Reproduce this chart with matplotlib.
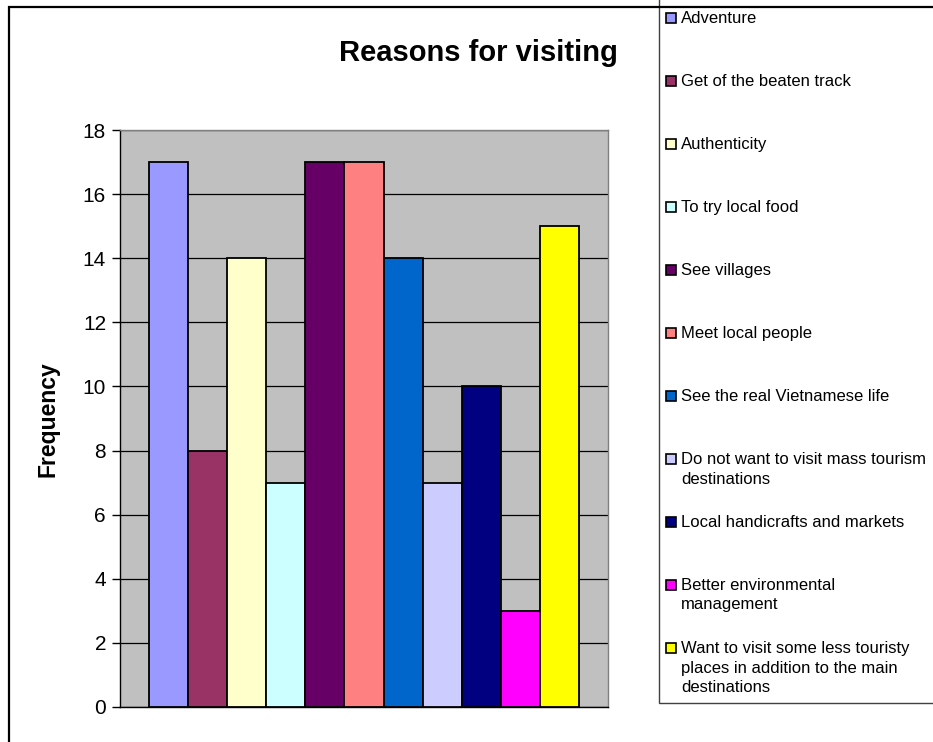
import matplotlib
matplotlib.use("Agg")
import matplotlib.pyplot as plt
from matplotlib.patches import Rectangle
import numpy as np

plt.rcParams['font.family'] = ['Liberation Sans', 'DejaVu Sans']

categories = [
    "Adventure",
    "Get of the beaten track",
    "Authenticity",
    "To try local food",
    "See villages",
    "Meet local people",
    "See the real Vietnamese life",
    "Do not want to visit mass tourism\ndestinations",
    "Local handicrafts and markets",
    "Better environmental\nmanagement",
    "Want to visit some less touristy\nplaces in addition to the main\ndestinations",
]
values = [17, 8, 14, 7, 17, 17, 14, 7, 10, 3, 15]
colors = ["#9999FF", "#993366", "#FFFFCC", "#CCFFFF", "#660066", "#FF8080",
          "#0066CC", "#CCCCFF", "#000080", "#FF00FF", "#FFFF00"]
yticks = list(range(0, 19, 2))
title = "Reasons for visiting"
ylabel = "Frequency"

W, H = 933, 742
fig = plt.figure(figsize=(W / 100, H / 100), dpi=100)

def fx(px):
    return px / W

def fy(py):
    return 1 - py / H

# legend box (behind border)
fig.patches.append(Rectangle((fx(659), fy(703)), 1, 1, transform=fig.transFigure,
                             facecolor="white", edgecolor="#404040", linewidth=1.0,
                             zorder=0, clip_on=False))
# figure border
fig.patches.append(Rectangle((fx(9), -0.1), 1, fy(7) + 0.1, transform=fig.transFigure,
                             facecolor="none", edgecolor="black", linewidth=1.6,
                             zorder=1, clip_on=False))

ax = fig.add_axes([fx(120), fy(707), fx(608) - fx(120), fy(130) - fy(707)])
ax.set_facecolor("#C0C0C0")
x = np.arange(len(values))
ax.bar(x, values, width=1.0, color=colors, edgecolor="black", linewidth=1.3, zorder=3)
ax.set_xlim(-1.25, len(values) + 0.25)
ax.set_ylim(0, 18)
ax.set_yticks(yticks)
ax.set_yticklabels([str(t) for t in yticks], fontsize=15)
ax.set_xticks([])
ax.yaxis.grid(True, color="black", linewidth=0.9, zorder=1)
ax.tick_params(axis='y', direction='out', length=6, width=1, pad=4)
for s in ["top", "right"]:
    ax.spines[s].set_color("#808080")
    ax.spines[s].set_linewidth(1.0)
ax.spines["left"].set_color("black")
ax.spines["bottom"].set_color("black")
ax.spines["left"].set_linewidth(1.0)
ax.spines["bottom"].set_linewidth(1.0)

fig.text(fx(478), fy(61), title, fontsize=21, fontweight="bold",
         ha="center", va="baseline")
fig.text(fx(48), fy(419), ylabel, fontsize=16.5, fontweight="bold",
         rotation=90, ha="center", va="center")

# legend entries
for i, (lab, col) in enumerate(zip(categories, colors)):
    base = 23 + 63.0 * i
    fig.patches.append(Rectangle((fx(666), fy(base)), fx(10), 10 / H,
                                 transform=fig.transFigure, facecolor=col,
                                 edgecolor="black", linewidth=1.2, zorder=2))
    for j, line in enumerate(lab.split("\n")):
        fig.text(fx(681), fy(base + 19.5 * j), line, fontsize=12,
                 ha="left", va="baseline")

fig.savefig("out.png", dpi=100)
